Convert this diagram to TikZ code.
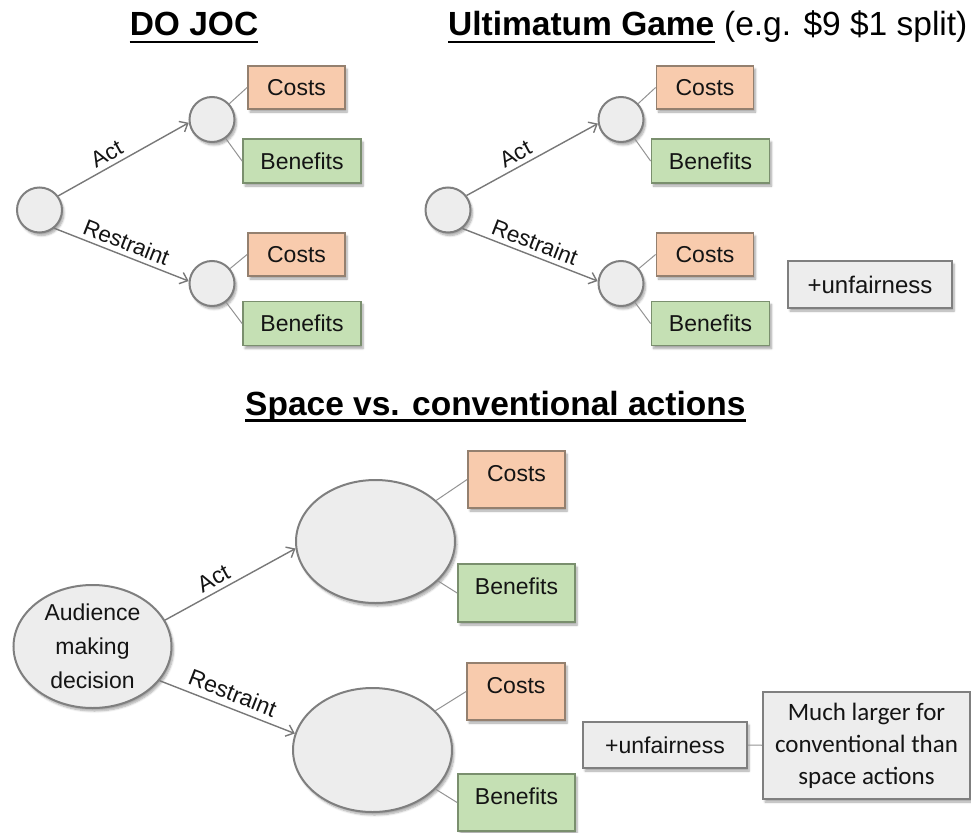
\documentclass[tikz,border=0pt]{standalone}
\usepackage{fontspec}
\setmainfont{Liberation Sans}
\newfontfamily\calibrifont{Carlito}
\usetikzlibrary{arrows.meta,shadows.blur,shapes.geometric}
\definecolor{costfill}{HTML}{F8CBAD}
\definecolor{costdraw}{HTML}{94806F}
\definecolor{benfill}{HTML}{C5E0B4}
\definecolor{bendraw}{HTML}{7A8F6E}
\definecolor{nodefill}{HTML}{EDEDED}
\definecolor{nodedraw}{HTML}{7F7F7F}
\definecolor{linegray}{HTML}{787878}
\definecolor{txt}{HTML}{141414}
\tikzset{
  shad/.style={blur shadow={shadow xshift=2pt,shadow yshift=-3pt,shadow blur steps=6,shadow opacity=35}},
  dnode/.style={circle, fill=nodefill, draw=nodedraw, line width=2pt, minimum size=45pt, inner sep=0pt, shad},
  bignode/.style={ellipse, fill=nodefill, draw=nodedraw, line width=2pt, inner sep=0pt, shad, text=txt},
  boxbase/.style={rectangle, line width=1.8pt, inner sep=0pt, shad, font=\fontsize{23}{27}\selectfont, text=txt},
  costbox/.style={boxbase, fill=costfill, draw=costdraw, minimum width=97pt, minimum height=43pt},
  benbox/.style={boxbase, fill=benfill, draw=bendraw, minimum width=118pt, minimum height=44pt},
  graybox/.style={boxbase, fill=nodefill, draw=nodedraw},
  upper/.style={text height=17pt, text depth=13.5pt},
  branch/.style={draw=linegray, line width=1.4pt, -{Straight Barb[length=7pt,width=12pt]}},
  leaf/.style={draw=linegray!80, line width=1pt},
  blabel/.style={font=\fontsize{22.5}{26}\selectfont, text=txt, sloped, above, inner sep=4.5pt},
  ttl/.style={font=\fontsize{33.5}{40}\selectfont\bfseries, inner sep=0pt, anchor=base},
  uline/.style={line width=2.2pt},
}
\begin{document}
\begin{tikzpicture}[x=1pt,y=-1pt]
\useasboundingbox (0,0) rectangle (971,832);

% ---------- titles ----------
\node[ttl] (t1) at (194,36) {DO JOC};
\draw[uline] ([yshift=-5.7pt]t1.base west) -- ([yshift=-5.7pt]t1.base east);
\node[ttl, anchor=base west] (t2) at (448,36) {Ultimatum Game};
\draw[uline] ([yshift=-5.7pt]t2.base west) -- ([yshift=-5.7pt]t2.base east);
\node[font=\fontsize{33.5}{40}\selectfont, inner sep=0pt, anchor=base west] (t2b) at ([xshift=9.3pt]t2.base east) {(e.g. \$9 \$1 split)};
\node[ttl, anchor=base west] (t3) at (245,415) {Space vs. conventional actions};
\draw[uline] ([yshift=-5.5pt]t3.base west) -- ([yshift=-5.5pt]t3.base east);

% ---------- DO JOC ----------
\node[dnode] (root1) at (39.5,210) {};
\node[dnode] (act1) at (212,119.5) {};
\node[dnode] (rest1) at (212,283.5) {};
\node[costbox] (c1a) at (296.5,87.5) {Costs};
\node[benbox] (b1a) at (302,161) {Benefits};
\node[costbox] (c1b) at (296.5,254.5) {Costs};
\node[benbox] (b1b) at (302,323.5) {Benefits};
\draw[branch] (root1.37) -- (act1.188) node[blabel,pos=0.42] {Act};
\draw[branch] (root1.-51) -- (rest1.174) node[blabel,pos=0.5] {Restraint};
\draw[leaf] (act1) -- (c1a.west);
\draw[leaf] (act1) -- (b1a.west);
\draw[leaf] (rest1) -- (c1b.west);
\draw[leaf] (rest1) -- (b1b.west);

% ---------- Ultimatum ----------
\node[dnode] (root2) at (448,210) {};
\node[dnode] (act2) at (621,119.5) {};
\node[dnode] (rest2) at (621,283.5) {};
\node[costbox] (c2a) at (705,87.5) {Costs};
\node[benbox] (b2a) at (710.5,161) {Benefits};
\node[costbox] (c2b) at (705,254.5) {Costs};
\node[benbox] (b2b) at (710.5,323.5) {Benefits};
\node[graybox, minimum width=164pt, minimum height=47pt, font=\fontsize{24}{28}\selectfont] (unf2) at (870,284.5) {+unfairness};
\draw[branch] (root2.38) -- (act2.190) node[blabel,pos=0.42] {Act};
\draw[branch] (root2.-52) -- (rest2.174) node[blabel,pos=0.5] {Restraint};
\draw[leaf] (act2) -- (c2a.west);
\draw[leaf] (act2) -- (b2a.west);
\draw[leaf] (rest2) -- (c2b.west);
\draw[leaf] (rest2) -- (b2b.west);

% ---------- Space vs conventional ----------
\node[bignode, minimum width=158pt, minimum height=123pt, align=center,
      font=\fontsize{23}{34}\selectfont] (root3) at (92.5,646.5) {Audience\\making\\decision};
\node[bignode, minimum width=159pt, minimum height=123pt] (act3) at (375.5,541.5) {};
\node[bignode, minimum width=159pt, minimum height=124pt] (rest3) at (372.5,750) {};
\node[costbox, upper, minimum height=57pt] (c3a) at (516.5,479.5) {Costs};
\node[benbox, upper, minimum width=117pt, minimum height=58pt] (b3a) at (516.5,593) {Benefits};
\node[costbox, upper, minimum width=98pt, minimum height=57pt] (c3b) at (516,691.5) {Costs};
\node[benbox, upper, minimum width=117pt, minimum height=57pt] (b3b) at (516.5,802.5) {Benefits};
\node[graybox, minimum width=164pt, minimum height=46pt] (unf3) at (665,745) {+unfairness};
\node[graybox, minimum width=207pt, minimum height=107pt, align=center,
      font=\calibrifont\fontsize{25}{32}\selectfont] (much3) at (866.5,745.5) {Much larger for\\conventional than\\space actions};
\draw[branch] (root3.20) -- (act3.185) node[blabel,pos=0.42,font=\fontsize{23}{27}\selectfont] {Act};
\draw[branch] (root3.-27) -- (rest3.168) node[blabel,pos=0.5,font=\fontsize{23}{27}\selectfont,inner sep=6pt] {Restraint};
\draw[leaf] (act3) -- (c3a.west);
\draw[leaf] (act3) -- (b3a.west);
\draw[leaf] (rest3) -- (c3b.west);
\draw[leaf] (rest3) -- (b3b.west);
\draw[leaf] (unf3) -- (much3);
\end{tikzpicture}
\end{document}
